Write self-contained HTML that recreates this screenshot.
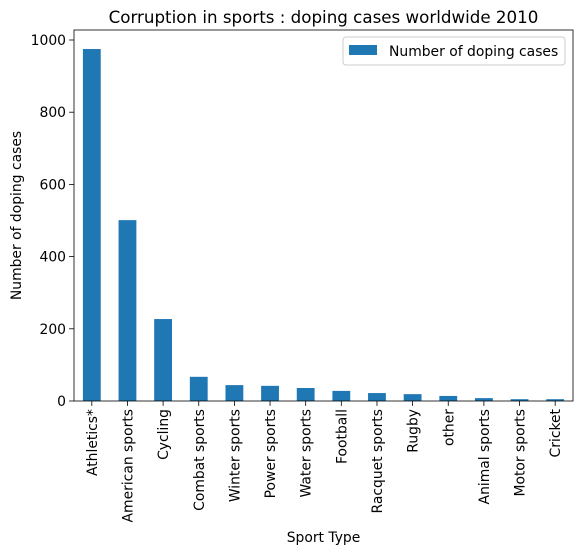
<!DOCTYPE html>
<html><head><meta charset="utf-8"><style>
body{margin:0;background:#fff;}
svg{display:block;font-family:"DejaVu Sans","Liberation Sans",sans-serif;}
</style></head><body>
<svg id="chart" width="580" height="554"></svg>
<script>
const categories=["Athletics*","American sports","Cycling","Combat sports","Winter sports","Power sports","Water sports","Football","Racquet sports","Rugby","other","Animal sports","Motor sports","Cricket"];
const values=[975,501,227,67,44,42,36,28,22,19,14,8,5,5];
const yTicks=[0,200,400,600,800,1000];
const L=74,R=573,T=30,B=401;
const NS="http://www.w3.org/2000/svg";
const svg=document.getElementById('chart');
const y=v=>B-v*0.361;
const step=(R-L)/categories.length;
const x=i=>L+step*(i+0.5);
function mk(tag,attrs,txt){const e=document.createElementNS(NS,tag);for(const k in attrs)e.setAttribute(k,attrs[k]);if(txt!==undefined)e.textContent=txt;svg.appendChild(e);return e;}
values.forEach((v,i)=>{
 const r=mk('rect',{x:x(i)-step/4,y:y(v),width:step/2,height:B-y(v),fill:'#1f77b4'});
 
 
 mk('line',{x1:x(i),x2:x(i),y1:B,y2:B+4.9,stroke:'#000','stroke-width':0.8});
 const t=mk('text',{x:0,y:0,transform:`translate(${x(i)+5},${B+8}) rotate(-90)`,'text-anchor':'end','font-size':'13.9'},categories[i]);
 
 
});
yTicks.forEach(v=>{
 mk('line',{x1:L-4.9,x2:L,y1:y(v),y2:y(v),stroke:'#000','stroke-width':0.8});
 const t=mk('text',{x:L-8,y:y(v)+5,'text-anchor':'end','font-size':'13.9'},v);
 
 
});
const frame=mk('rect',{x:L,y:T,width:R-L,height:B-T,fill:'none',stroke:'#000','stroke-width':0.8});


const title=mk('text',{x:(L+R)/2,y:23,'text-anchor':'middle','font-size':'16.7'},'Corruption in sports : doping cases worldwide 2010');


const xl=mk('text',{x:(L+R)/2,y:542,'text-anchor':'middle','font-size':'13.9'},'Sport Type');


const yl=mk('text',{x:0,y:0,transform:`translate(21,${(T+B)/2}) rotate(-90)`,'text-anchor':'middle','font-size':'13.9'},'Number of doping cases');


const lg=mk('rect',{x:343,y:37,width:222,height:28,rx:3,fill:'#fff',stroke:'#ccc','stroke-width':1});


const sw=mk('rect',{x:349,y:45,width:28,height:10,fill:'#1f77b4'});


const lt=mk('text',{x:389,y:56,'font-size':'13.9'},'Number of doping cases');


</script>
</body></html>
